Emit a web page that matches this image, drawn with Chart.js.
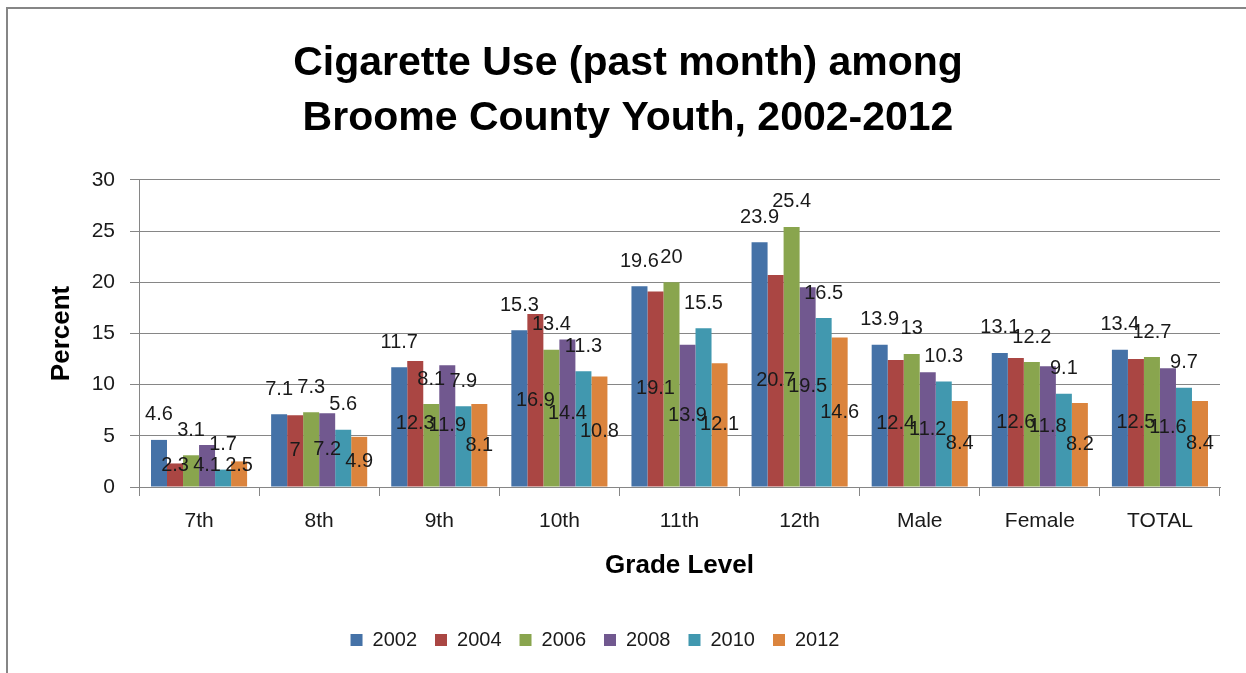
<!DOCTYPE html>
<html>
<head>
<meta charset="utf-8">
<script src="https://cdn.jsdelivr.net/npm/chart.js@4.4.1/dist/chart.umd.min.js"></script>
<style>
  html, body { margin: 0; padding: 0; background: #ffffff; overflow: hidden; }
  #frame { position: absolute; left: 6px; top: 7px; width: 1400px; height: 800px;
           border-top: 2px solid #868686; border-left: 2px solid #868686; box-sizing: border-box; }
  #c { position: absolute; left: 0; top: 0; }
</style>
</head>
<body>
<div id="frame"></div>
<canvas id="c" width="1246" height="673"></canvas>
<script>
// ---- Data ----
const categories = ['7th', '8th', '9th', '10th', '11th', '12th', 'Male', 'Female', 'TOTAL'];
const seriesNames = ['2002', '2004', '2006', '2008', '2010', '2012'];
const y2002 = [4.6, 7.1, 11.7, 15.3, 19.6, 23.9, 13.9, 13.1, 13.4];
const y2004 = [2.3, 7, 12.3, 16.9, 19.1, 20.7, 12.4, 12.6, 12.5];
const y2006 = [3.1, 7.3, 8.1, 13.4, 20, 25.4, 13, 12.2, 12.7];
const y2008 = [4.1, 7.2, 11.9, 14.4, 13.9, 19.5, 11.2, 11.8, 11.6];
const y2010 = [1.7, 5.6, 7.9, 11.3, 15.5, 16.5, 10.3, 9.1, 9.7];
const y2012 = [2.5, 4.9, 8.1, 10.8, 12.1, 14.6, 8.4, 8.2, 8.4];
const yTicks = [0, 5, 10, 15, 20, 25, 30];

const colors = ['#4572A7', '#AA4643', '#89A54E', '#71588F', '#4198AF', '#DB843D'];
const seriesValues = [y2002, y2004, y2006, y2008, y2010, y2012];

const FONT = "'Liberation Sans', Arial, sans-serif";
const GRID = '#868686';

const datasets = seriesNames.map((name, i) => ({
  label: name,
  data: seriesValues[i],
  backgroundColor: colors[i],
  borderWidth: 0,
  categoryPercentage: 0.8,
  barPercentage: 1.0
}));

// Data labels: odd series (2002, 2006, 2010) above the bar; others in the middle of the bar
const labelPlugin = {
  id: 'barLabels',
  afterDatasetsDraw(chart) {
    const ctx = chart.ctx;
    ctx.save();
    ctx.font = '20px ' + FONT;
    ctx.fillStyle = '#1a1a1a';
    ctx.textAlign = 'center';
    ctx.textBaseline = 'middle';
    chart.data.datasets.forEach((ds, i) => {
      const meta = chart.getDatasetMeta(i);
      meta.data.forEach((bar, j) => {
        const v = ds.data[j];
        let y;
        if (i % 2 === 0) {
          y = bar.y - 25;
        } else {
          y = Math.min((bar.y + bar.base) / 2, bar.base - 21);
        }
        ctx.fillText(String(v), bar.x, y);
      });
    });
    ctx.restore();
  }
};

// small layout shift of legend and title to match the original placement
const shiftPlugin = {
  id: 'shiftBoxes',
  afterLayout(chart) {
    const lg = chart.legend;
    if (lg) { lg.left -= 15; lg.right -= 15; }
    const tt = chart.titleBlock;
    if (tt) { tt.left += 18; tt.right += 18; }
  }
};

new Chart(document.getElementById('c'), {
  type: 'bar',
  data: { labels: categories, datasets },
  plugins: [labelPlugin, shiftPlugin],
  options: {
    responsive: false,
    animation: false,
    layout: { padding: { left: 0, right: 26, top: 0, bottom: 13 } },
    plugins: {
      title: {
        display: true,
        text: ['Cigarette Use (past month) among', 'Broome County Youth, 2002-2012'],
        color: '#000000',
        font: { family: FONT, size: 41, weight: 'bold', lineHeight: 1.34 },
        padding: { top: 36, bottom: 34 }
      },
      legend: {
        display: true,
        position: 'bottom',
        labels: {
          boxWidth: 12,
          boxHeight: 12,
          padding: 18,
          color: '#1a1a1a',
          font: { family: FONT, size: 20 }
        }
      },
      tooltip: { enabled: false }
    },
    scales: {
      x: {
        grid: {
          display: true,
          drawOnChartArea: false,
          drawTicks: true,
          tickLength: 9,
          color: GRID,
          offset: true
        },
        border: { display: true, color: GRID, width: 1 },
        ticks: {
          color: '#1a1a1a',
          font: { family: FONT, size: 21 },
          padding: 13,
          maxRotation: 0
        },
        title: {
          display: true,
          text: 'Grade Level',
          color: '#000000',
          font: { family: FONT, size: 26, weight: 'bold' },
          padding: { top: 0, bottom: 31 }
        },
        afterFit(scale) { scale.height = 125; }
      },
      y: {
        min: 0,
        max: 30,
        afterBuildTicks(scale) { scale.ticks = yTicks.map(v => ({ value: v })); },
        grid: {
          display: true,
          drawOnChartArea: true,
          drawTicks: true,
          tickLength: 9,
          color: GRID,
          lineWidth: 1
        },
        border: { display: true, color: GRID, width: 1 },
        ticks: {
          color: '#1a1a1a',
          font: { family: FONT, size: 21 },
          padding: 15
        },
        title: {
          display: true,
          text: 'Percent',
          color: '#000000',
          font: { family: FONT, size: 26, weight: 'bold' },
          padding: { top: 46, bottom: 0 }
        },
        afterFit(scale) { scale.width = 139; }
      }
    }
  }
});
</script>
</body>
</html>
